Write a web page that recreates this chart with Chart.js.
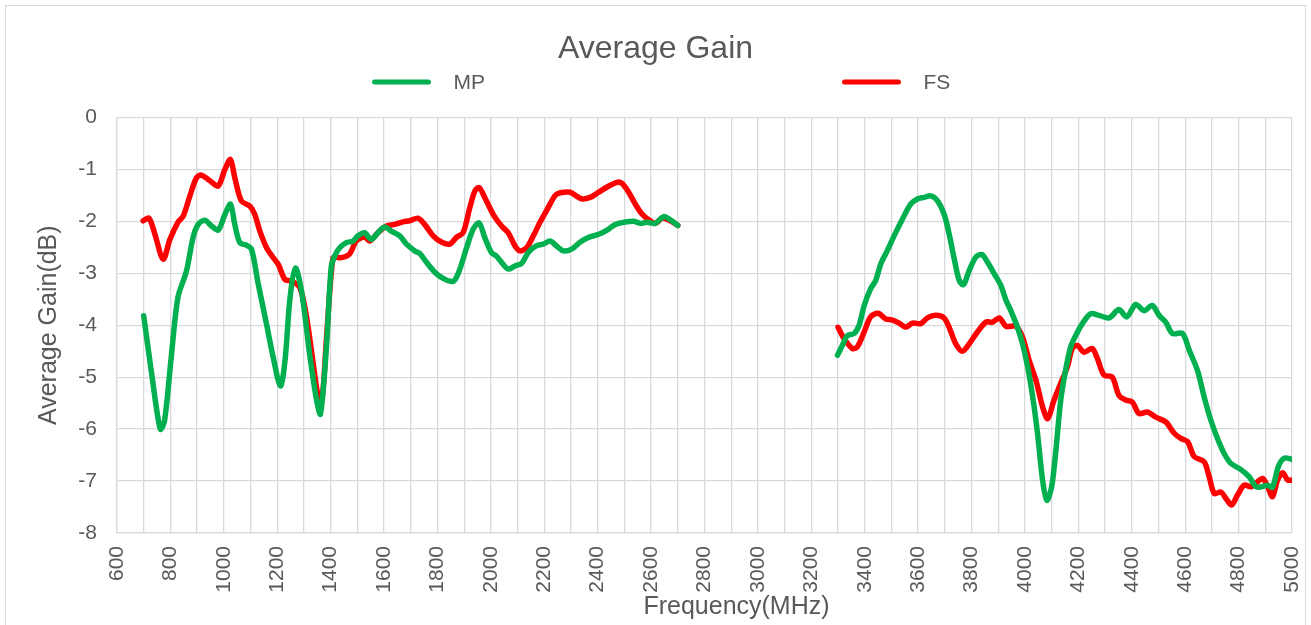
<!DOCTYPE html>
<html>
<head>
<meta charset="utf-8">
<title>Average Gain</title>
<script src="https://cdn.jsdelivr.net/npm/chart.js@4/dist/chart.umd.min.js"></script>
<style>
  html, body { margin: 0; padding: 0; background: #fff; }
  #wrap { width: 1311px; height: 625px; position: relative; }
</style>
</head>
<body>
<div id="wrap"><canvas id="myChart"></canvas></div>
<script>
var mpFreq = [700, 730, 762, 778, 803, 828, 860, 885, 904, 929, 954, 979, 1004, 1025, 1041, 1060, 1085, 1104, 1129, 1160, 1185, 1212, 1229, 1248, 1268, 1291, 1323, 1348, 1362, 1384, 1402, 1415, 1434, 1459, 1484, 1502, 1527, 1552, 1577, 1602, 1627, 1659, 1684, 1715, 1734, 1759, 1790, 1821, 1852, 1865, 1884, 1909, 1934, 1956, 1977, 2002, 2021, 2040, 2065, 2090, 2115, 2140, 2171, 2196, 2222, 2247, 2272, 2304, 2335, 2366, 2404, 2435, 2466, 2497, 2535, 2560, 2585, 2616, 2647, 2672, 2700,
  3000,
  3298, 3316, 3335, 3360, 3379, 3398, 3422, 3441, 3460, 3485, 3510, 3541, 3572, 3597, 3622, 3647, 3672, 3697, 3716, 3735, 3754, 3770, 3791, 3816, 3839, 3860, 3885, 3910, 3929, 3947, 3972, 3991, 4010, 4029, 4047, 4066, 4082, 4100, 4116, 4134, 4152, 4171, 4190, 4215, 4246, 4277, 4315, 4352, 4381, 4415, 4446, 4477, 4502, 4527, 4552, 4590, 4615, 4646, 4671, 4696, 4721, 4746, 4771, 4809, 4840, 4865, 4884, 4909, 4927, 4949, 4971, 5000];
var mpGain = [-3.82, -4.94, -6.0, -5.84, -4.62, -3.47, -2.96, -2.31, -2.06, -1.98, -2.09, -2.17, -1.87, -1.67, -2.06, -2.41, -2.46, -2.54, -3.21, -3.98, -4.62, -5.17, -4.69, -3.47, -2.9, -3.34, -4.62, -5.46, -5.71, -4.44, -2.89, -2.67, -2.51, -2.41, -2.38, -2.28, -2.22, -2.35, -2.22, -2.11, -2.19, -2.28, -2.44, -2.57, -2.62, -2.79, -2.98, -3.1, -3.16, -3.13, -2.92, -2.51, -2.15, -2.03, -2.31, -2.6, -2.67, -2.79, -2.92, -2.86, -2.81, -2.6, -2.47, -2.44, -2.38, -2.48, -2.57, -2.53, -2.4, -2.31, -2.25, -2.17, -2.06, -2.02, -2.0, -2.04, -2.02, -2.04, -1.91, -1.97, -2.08,
  null,
  -4.58, -4.39, -4.2, -4.16, -4.0, -3.62, -3.3, -3.14, -2.82, -2.56, -2.28, -1.96, -1.67, -1.57, -1.54, -1.51, -1.6, -1.86, -2.24, -2.72, -3.14, -3.22, -2.95, -2.69, -2.64, -2.79, -3.01, -3.24, -3.52, -3.72, -4.04, -4.36, -4.8, -5.38, -6.08, -6.98, -7.37, -7.11, -6.4, -5.44, -4.87, -4.42, -4.2, -3.97, -3.78, -3.81, -3.86, -3.7, -3.84, -3.6, -3.72, -3.62, -3.81, -3.94, -4.16, -4.16, -4.48, -4.87, -5.38, -5.83, -6.18, -6.47, -6.66, -6.78, -6.92, -7.11, -7.11, -7.08, -7.12, -6.72, -6.56, -6.58];

var fsFreq = [698, 720, 742, 773, 798, 829, 848, 873, 898, 916, 948, 979, 1004, 1025, 1041, 1066, 1098, 1116, 1135, 1160, 1185, 1204, 1229, 1254, 1285, 1310, 1335, 1354, 1367, 1384, 1396, 1408, 1415, 1440, 1471, 1496, 1527, 1546, 1577, 1609, 1640, 1671, 1696, 1727, 1752, 1784, 1815, 1846, 1871, 1896, 1921, 1940, 1956, 1977, 2009, 2040, 2065, 2090, 2109, 2134, 2159, 2184, 2210, 2241, 2260, 2297, 2322, 2341, 2372, 2404, 2435, 2472, 2491, 2516, 2541, 2566, 2591, 2616, 2641, 2660, 2682, 2700,
  3000,
  3300, 3323, 3354, 3372, 3398, 3422, 3450, 3479, 3504, 3529, 3554, 3579, 3610, 3635, 3666, 3697, 3716, 3741, 3766, 3791, 3822, 3854, 3879, 3904, 3929, 3966, 3991, 4016, 4041, 4066, 4085, 4109, 4134, 4159, 4177, 4196, 4221, 4252, 4271, 4296, 4327, 4352, 4377, 4402, 4427, 4459, 4490, 4527, 4559, 4584, 4609, 4634, 4671, 4690, 4709, 4734, 4752, 4774, 4796, 4821, 4846, 4865, 4890, 4909, 4927, 4946, 4965, 4984, 5000];
var fsGain = [-1.99, -1.94, -2.25, -2.73, -2.35, -2.01, -1.9, -1.51, -1.16, -1.11, -1.22, -1.32, -1.0, -0.81, -1.16, -1.61, -1.71, -1.87, -2.19, -2.51, -2.7, -2.83, -3.12, -3.15, -3.28, -3.85, -4.75, -5.39, -5.46, -4.3, -3.4, -2.72, -2.69, -2.7, -2.63, -2.38, -2.3, -2.38, -2.22, -2.09, -2.06, -2.01, -1.99, -1.94, -2.06, -2.28, -2.4, -2.44, -2.31, -2.22, -1.74, -1.42, -1.35, -1.54, -1.87, -2.09, -2.22, -2.47, -2.57, -2.51, -2.28, -2.02, -1.78, -1.5, -1.45, -1.44, -1.52, -1.57, -1.54, -1.44, -1.34, -1.25, -1.27, -1.44, -1.67, -1.86, -1.97, -2.04, -1.94, -1.96, -2.02, -2.08,
  null,
  -4.04, -4.26, -4.45, -4.42, -4.13, -3.84, -3.77, -3.88, -3.9, -3.96, -4.04, -3.96, -3.97, -3.86, -3.81, -3.86, -4.04, -4.36, -4.5, -4.36, -4.13, -3.94, -3.94, -3.86, -4.02, -4.02, -4.23, -4.68, -5.06, -5.57, -5.8, -5.44, -5.12, -4.8, -4.45, -4.39, -4.52, -4.45, -4.64, -4.96, -5.0, -5.35, -5.44, -5.48, -5.7, -5.67, -5.77, -5.86, -6.08, -6.18, -6.24, -6.53, -6.63, -6.92, -7.24, -7.21, -7.33, -7.46, -7.27, -7.08, -7.11, -7.04, -6.95, -7.11, -7.3, -6.98, -6.84, -6.98, -6.98];

var seriesNames = ['MP', 'FS'];
var seriesColors = ['#00B050', '#FF0000'];

var textColor = '#595959';
var fontFamily = "'Liberation Sans Narrow', 'Liberation Sans', Arial, sans-serif";

function toPoints(freq, gain) {
  return freq.map(function (f, i) {
    return { x: f, y: gain[i] };
  });
}

// legend, chart frame and x axis title
var extras = {
  id: 'extras',
  beforeDraw: function (chart) {
    var ctx = chart.ctx;
    ctx.save();
    ctx.strokeStyle = '#D9D9D9';
    ctx.lineWidth = 1;
    ctx.strokeRect(5.5, 5.5, chart.width - 11, chart.height + 20);
    ctx.restore();
  },
  afterDraw: function (chart) {
    var ctx = chart.ctx;
    var area = chart.chartArea;
    var mid = chart.width / 2;
    var starts = [mid - 281, mid + 189];
    ctx.save();
    ctx.font = '21px ' + fontFamily;
    ctx.textBaseline = 'middle';
    ctx.lineCap = 'round';
    chart.data.datasets.forEach(function (ds, i) {
      ctx.strokeStyle = ds.borderColor;
      ctx.lineWidth = 5;
      ctx.beginPath();
      ctx.moveTo(starts[i], 82);
      ctx.lineTo(starts[i] + 54, 82);
      ctx.stroke();
      ctx.fillStyle = textColor;
      ctx.textAlign = 'left';
      ctx.fillText(ds.label, starts[i] + 79, 83);
    });
    // x axis title sits a bit right of centre in the original
    ctx.font = '25px ' + fontFamily;
    ctx.textAlign = 'center';
    ctx.fillText('Frequency(MHz)', (area.left + area.right) / 2 + 32, 607);
    ctx.restore();
  }
};

var ctx = document.getElementById('myChart').getContext('2d');

var chartData = {
  datasets: [
    {
      label: seriesNames[0],
      data: toPoints(mpFreq, mpGain),
      borderColor: seriesColors[0],
      backgroundColor: seriesColors[0]
    },
    {
      label: seriesNames[1],
      data: toPoints(fsFreq, fsGain),
      borderColor: seriesColors[1],
      backgroundColor: seriesColors[1]
    }
  ]
};

var myChart = new Chart(ctx, {
  type: 'line',
  data: chartData,
  plugins: [extras],
  options: {
    responsive: true,
    maintainAspectRatio: false,
    animation: false,
    spanGaps: false,
    layout: { padding: 0 },
    elements: {
      point: { radius: 0 },
      line: { borderWidth: 5.5, tension: 0.3, borderCapStyle: 'round', borderJoinStyle: 'round' }
    },
    plugins: {
      legend: { display: false },
      tooltip: { enabled: false },
      title: {
        display: true,
        text: 'Average Gain',
        color: textColor,
        font: { family: fontFamily, size: 32, weight: 'normal', lineHeight: 1.2 },
        padding: { top: 30, bottom: 49 }
      }
    },
    scales: {
      x: {
        type: 'linear',
        min: 600,
        max: 5000,
        grid: { color: '#D9D9D9', lineWidth: 1.3, drawTicks: false },
        border: { color: '#D9D9D9', width: 1.3 },
        ticks: {
          stepSize: 100,
          autoSkip: false,
          minRotation: 90,
          maxRotation: 90,
          padding: 13,
          color: textColor,
          font: { family: fontFamily, size: 21 },
          callback: function (value) {
            return value % 200 === 0 ? String(value) : '';
          }
        },
        afterFit: function (scale) {
          scale.height = 92;
          // fixed side room so the plot ends where the original does
          scale.paddingLeft = 0;
          scale.paddingRight = 19;
        }
      },
      y: {
        min: -8,
        max: 0,
        grid: { color: '#D9D9D9', lineWidth: 1.3, drawTicks: false },
        border: { color: '#D9D9D9', width: 1.3 },
        ticks: {
          stepSize: 1,
          padding: 20,
          color: textColor,
          font: { family: fontFamily, size: 21 }
        },
        title: {
          display: true,
          text: 'Average Gain(dB)',
          color: textColor,
          font: { family: fontFamily, size: 25, lineHeight: 1.2 },
          padding: { top: 34, bottom: 0 }
        },
        afterFit: function (scale) {
          scale.width = 117;
        }
      }
    }
  }
});
</script>
</body>
</html>
